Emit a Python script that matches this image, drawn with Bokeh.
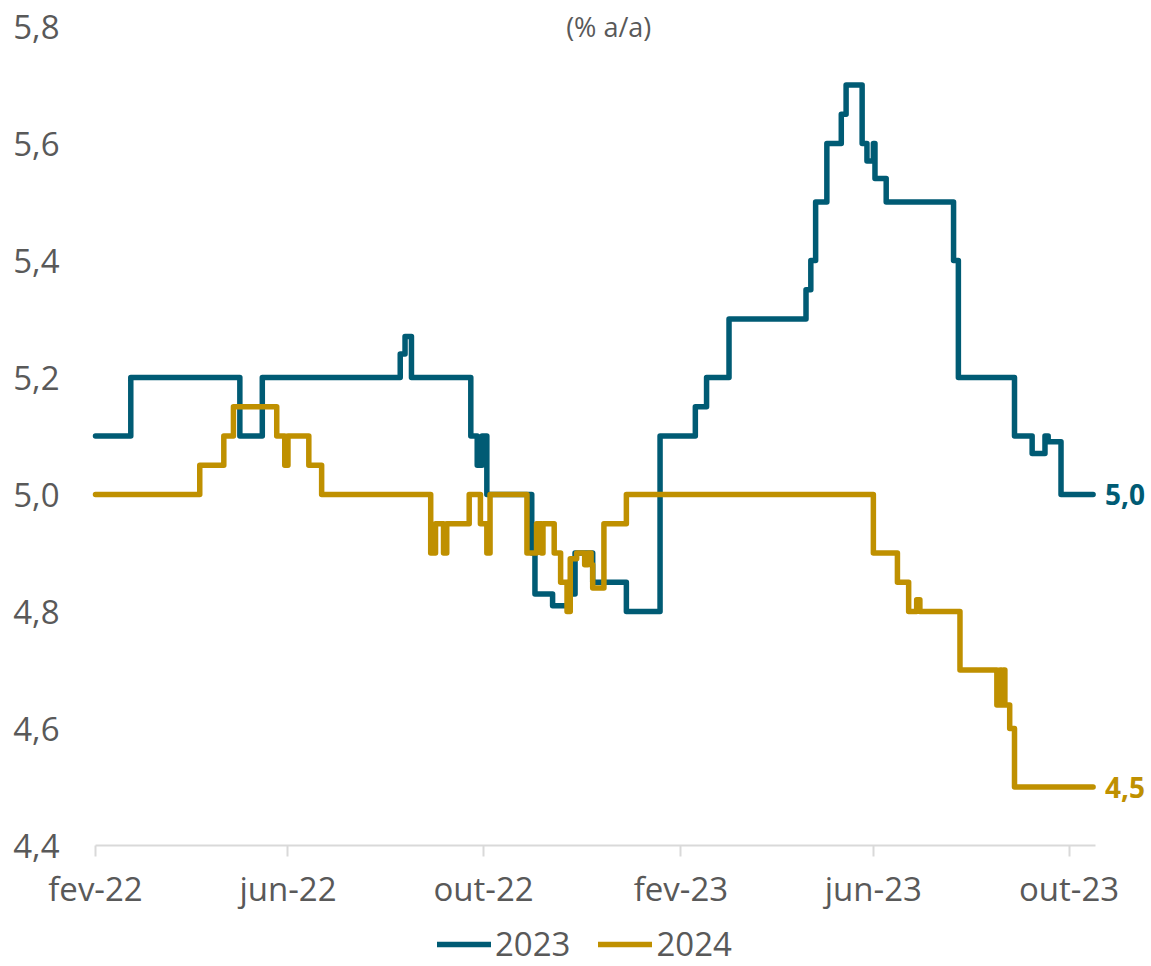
from datetime import datetime, timezone
from bokeh.plotting import figure
from bokeh.models import (Range1d, FixedTicker, CustomJSTickFormatter, Label,
                          Legend, LegendItem, ColumnDataSource)
from bokeh.embed import file_html
from bokeh.resources import INLINE

# ---------------- data ----------------
dates_2023 = ["2022-02-01", "2022-02-23", "2022-05-02", "2022-05-16", "2022-08-10", "2022-08-13",
              "2022-08-17", "2022-09-23", "2022-09-27", "2022-09-30", "2022-10-03", "2022-10-31",
              "2022-11-02", "2022-11-13", "2022-11-24", "2022-11-27", "2022-12-08", "2022-12-29",
              "2023-01-19", "2023-02-10", "2023-02-17", "2023-03-03", "2023-04-20", "2023-04-23",
              "2023-04-26", "2023-05-03", "2023-05-12", "2023-05-15", "2023-05-25", "2023-05-28",
              "2023-06-01", "2023-06-02", "2023-06-09", "2023-07-21", "2023-07-24", "2023-08-28",
              "2023-09-08", "2023-09-16", "2023-09-18", "2023-09-26", "2023-10-16"]
values_2023 = [5.10, 5.20, 5.10, 5.20, 5.24, 5.27, 5.20, 5.10, 5.05, 5.10,
               5.00, 4.90, 4.83, 4.81, 4.83, 4.90, 4.85, 4.80, 5.10, 5.15,
               5.20, 5.30, 5.35, 5.40, 5.50, 5.60, 5.65, 5.70, 5.60, 5.57,
               5.60, 5.54, 5.50, 5.40, 5.20, 5.10, 5.07, 5.10, 5.09, 5.00,
               5.00]

dates_2024 = ["2022-02-01", "2022-04-07", "2022-04-22", "2022-04-28", "2022-05-25", "2022-05-30",
              "2022-06-01", "2022-06-14", "2022-06-22", "2022-08-29", "2022-09-01", "2022-09-06",
              "2022-09-08", "2022-09-22", "2022-09-29", "2022-10-03", "2022-10-05", "2022-10-28",
              "2022-11-03", "2022-11-06", "2022-11-07", "2022-11-14", "2022-11-18", "2022-11-22",
              "2022-11-24", "2022-11-28", "2022-12-03", "2022-12-05", "2022-12-07", "2022-12-08",
              "2022-12-15", "2022-12-29", "2023-06-01", "2023-06-16", "2023-06-23", "2023-06-28",
              "2023-06-30", "2023-07-25", "2023-08-17", "2023-08-19", "2023-08-20", "2023-08-21",
              "2023-08-22", "2023-08-25", "2023-08-28", "2023-10-16"]
values_2024 = [5.00, 5.05, 5.10, 5.15, 5.10, 5.05, 5.10, 5.05, 5.00, 4.90,
               4.95, 4.90, 4.95, 5.00, 4.95, 4.90, 5.00, 4.90, 4.95, 4.90,
               4.95, 4.90, 4.85, 4.80, 4.89, 4.90, 4.88, 4.90, 4.88, 4.84,
               4.95, 5.00, 4.90, 4.85, 4.80, 4.82, 4.80, 4.70, 4.64, 4.70,
               4.64, 4.70, 4.64, 4.60, 4.50, 4.50]

series_names = ["2023", "2024"]
x_tick_dates = ["2022-02-01", "2022-06-01", "2022-10-01", "2023-02-01", "2023-06-01", "2023-10-01"]
x_tick_labels = ["fev-22", "jun-22", "out-22", "fev-23", "jun-23", "out-23"]
y_ticks = [4.4, 4.6, 4.8, 5.0, 5.2, 5.4, 5.6, 5.8]
title_text = "(% a/a)"

# ---------------- helpers ----------------
def to_dt(s):
    return datetime.strptime(s, "%Y-%m-%d").replace(tzinfo=timezone.utc)

def to_ms(s):
    return to_dt(s).timestamp() * 1000.0

DAY = 24 * 3600 * 1000
BLUE = "#005B74"
GOLD = "#BF9000"
GREY = "#595959"
FONT = "Open Sans"

# ---------------- layout geometry (pixels) ----------------
W, H = 1151, 966
BORDER_R, BORDER_T = 2, 2
PLOT_LEFT_PX = 95            # screen x of the axis start
AXIS_Y_PX = 845              # screen y of the 4.4 baseline
TOP_Y_PX = 26                # screen y of the 5.8 tick
PX_PER_DAY = 1000 / 623.5
PX_PER_UNIT = 585.0

y_axis_start, y_axis_end = 4.4, 5.8
x_start = to_ms("2022-02-01")
x_axis_end = to_ms("2023-10-17") + DAY / 2

# the frame covers the whole canvas so that no text is clipped;
# the axes are pinned at the data origin with fixed_location
x_lo = x_start - PLOT_LEFT_PX / PX_PER_DAY * DAY
x_hi = x_start + (W - BORDER_R - PLOT_LEFT_PX) / PX_PER_DAY * DAY
y_hi = y_axis_end + (TOP_Y_PX - BORDER_T) / PX_PER_UNIT
y_lo = y_axis_start - (H - AXIS_Y_PX) / PX_PER_UNIT

p = figure(width=W, height=H, output_backend="svg", toolbar_location=None,
           x_axis_type="datetime",
           x_range=Range1d(x_lo, x_hi), y_range=Range1d(y_lo, y_hi),
           min_border_left=0, min_border_right=BORDER_R,
           min_border_top=BORDER_T, min_border_bottom=0)
p.outline_line_color = None
p.xgrid.visible = False
p.ygrid.visible = False
p.background_fill_color = "white"
p.border_fill_color = "white"

src23 = ColumnDataSource(dict(x=[to_ms(d) for d in dates_2023], y=values_2023))
src24 = ColumnDataSource(dict(x=[to_ms(d) for d in dates_2024], y=values_2024))

r23 = p.step("x", "y", source=src23, mode="after", line_color=BLUE, line_width=5.5,
             line_join="round", line_cap="round")
r24 = p.step("x", "y", source=src24, mode="after", line_color=GOLD, line_width=5.5,
             line_join="round", line_cap="round")

# y axis, pinned at the first date
yax = p.yaxis[0]
yax.fixed_location = x_start
yax.bounds = (y_axis_start, y_axis_end)
yax.ticker = FixedTicker(ticks=y_ticks, minor_ticks=[])
yax.formatter = CustomJSTickFormatter(code="return tick.toFixed(1).replace('.', ',');")
yax.axis_line_color = None
yax.major_tick_line_color = None
yax.minor_tick_line_color = None
yax.major_tick_out = 0
yax.major_tick_in = 0
yax.major_label_standoff = 36
yax.major_label_text_font = FONT
yax.major_label_text_font_size = "33px"
yax.major_label_text_color = GREY

# x axis, pinned at the 4.4 baseline
xticks_ms = [to_ms(d) for d in x_tick_dates]
xax = p.xaxis[0]
xax.fixed_location = y_axis_start
xax.bounds = (x_start, x_axis_end)
xax.ticker = FixedTicker(ticks=xticks_ms, minor_ticks=[])
xax.formatter = CustomJSTickFormatter(args=dict(tv=xticks_ms, tl=x_tick_labels),
                                      code="const i = tv.indexOf(tick); return i >= 0 ? tl[i] : '';")
xax.axis_line_color = "#D9D9D9"
xax.axis_line_width = 2
xax.major_tick_line_color = "#D9D9D9"
xax.major_tick_line_width = 2
xax.major_tick_out = 11
xax.major_tick_in = 0
xax.minor_tick_line_color = None
xax.major_label_standoff = 9
xax.major_label_text_font = FONT
xax.major_label_text_font_size = "33px"
xax.major_label_text_color = GREY

# title inside chart
p.add_layout(Label(x=to_ms("2022-12-18"), y=y_axis_end, text=title_text, text_align="center",
                   text_baseline="middle", text_font=FONT, text_font_size="27px",
                   text_color=GREY))

# end labels
p.add_layout(Label(x=to_ms(dates_2023[-1]), y=values_2023[-1], x_offset=12,
                   text=f"{values_2023[-1]:.1f}".replace(".", ","), text_align="left",
                   text_baseline="middle", text_font=FONT, text_font_size="28px",
                   text_font_style="bold", text_color=BLUE))
p.add_layout(Label(x=to_ms(dates_2024[-1]), y=values_2024[-1], x_offset=12,
                   text=f"{values_2024[-1]:.1f}".replace(".", ","), text_align="left",
                   text_baseline="middle", text_font=FONT, text_font_size="28px",
                   text_font_style="bold", text_color=GOLD))

# legend (bottom centre)
legend = Legend(items=[LegendItem(label=series_names[0], renderers=[r23]),
                       LegendItem(label=series_names[1], renderers=[r24])],
                orientation="horizontal", location=(437, 0),
                glyph_width=54, glyph_height=30, label_standoff=4, spacing=28,
                padding=0, margin=0, border_line_color=None, background_fill_alpha=0,
                label_text_font=FONT, label_text_font_size="33px", label_text_color=GREY)
p.add_layout(legend, "center")

open("out.html", "w").write(file_html(p, INLINE))
